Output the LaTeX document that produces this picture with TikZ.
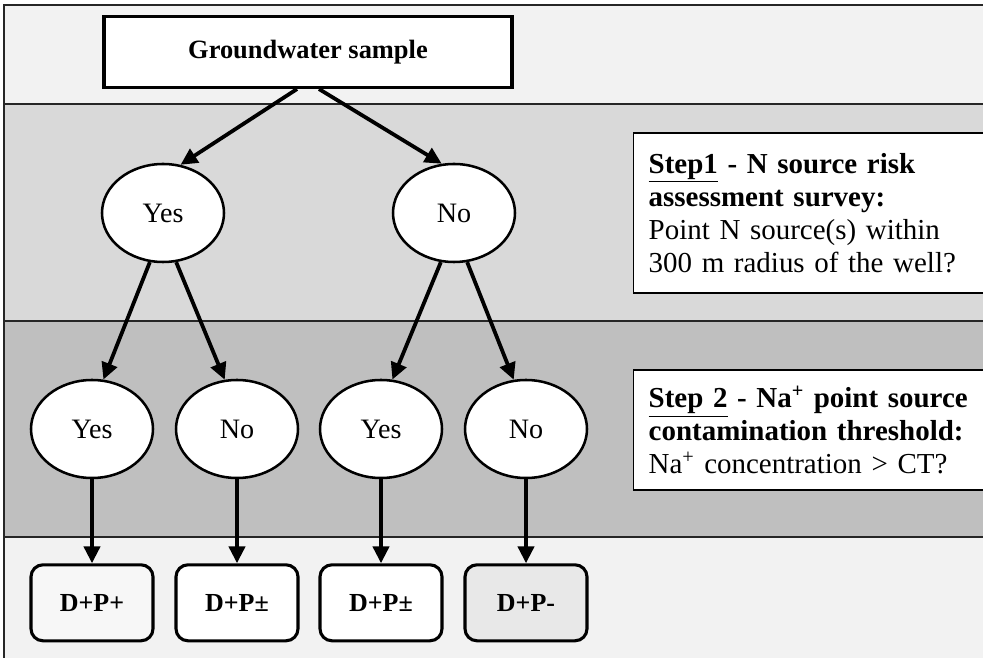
\documentclass[tikz,border=0pt]{standalone}
\usepackage{fontspec}
\setmainfont{Liberation Serif}
\usetikzlibrary{positioning, shapes.geometric, arrows.meta}

\begin{document}
\begin{tikzpicture}[
    node distance=2.1cm,
    font=\fontsize{18}{21}\selectfont,
    % Styles
    band/.style={draw=black!85, line width=0.9pt},
    root_box/.style={
        draw, rectangle, fill=white, line width=2.2pt,
        minimum width=10.2cm, minimum height=1.775cm,
        font=\fontsize{18.8}{22}\selectfont\bfseries
    },
    answer/.style={
        draw, ellipse, fill=white, line width=1.8pt, inner sep=0pt,
        minimum width=3.05cm, minimum height=2.45cm,
        font=\fontsize{20}{23}\selectfont
    },
    result_box/.style={
        draw, rectangle, rounded corners=0.3cm, line width=2.2pt,
        minimum width=3.05cm, minimum height=1.9cm,
        font=\fontsize{18.5}{21}\selectfont\bfseries
    },
    step_box/.style={
        draw, rectangle, fill=white, line width=1pt, anchor=west,
        align=left, text width=9.5cm, inner xsep=0.375cm,
        font=\fontsize{20.6}{23.4}\selectfont
    },
    line/.style={-{Triangle[length=0.42cm, width=0.4cm]}, line width=2.7pt}
]

    \useasboundingbox (0,0) rectangle (24.575,16.425);
    \clip (0,0) rectangle (24.575,16.425);

    % --- BANDS ---
    \draw[band, fill=black!5] (0.1,13.825) rectangle (25,16.3);
    \draw[band, fill=black!15] (0.1,8.4) rectangle (25,13.825);
    \draw[band, fill=black!25] (0.1,3.0) rectangle (25,8.4);
    \draw[band, fill=black!5] (0.1,-1) rectangle (25,3.0);

    % --- NODES ---
    \node[root_box] (root) at (7.7,15.125) {Groundwater sample};

    % Step 1 answers
    \node[answer] (yes1) at (4.075,11.1) {Yes};
    \node[answer] (no1) at (11.35,11.1) {No};

    % Step 2 answers
    \node[answer] (yes2a) at (2.3,5.7) {Yes};
    \node[answer] (no2a) at (5.925,5.7) {No};
    \node[answer] (yes2b) at (9.525,5.7) {Yes};
    \node[answer] (no2b) at (13.15,5.7) {No};

    % Results
    \node[result_box, fill=black!3, below=of yes2a] (r1) {D+P+};
    \node[result_box, fill=white, below=of no2a] (r2) {D+P±};
    \node[result_box, fill=white, below=of yes2b] (r3) {D+P±};
    \node[result_box, fill=black!9, below=of no2b] (r4) {D+P-};

    % Step descriptions
    \node[step_box, minimum height=4cm] (step1) at (15.825,11.1)
        {\textbf{\underline{Step1} - N source risk}\\
         \textbf{assessment survey:}\\
         Point N source(s) within\\
         300 m radius of the well?};
    \node[step_box, minimum height=3cm] (step2) at (15.825,5.675)
        {\textbf{\underline{Step 2} - Na\textsuperscript{+} point source}\\
         \textbf{contamination threshold:}\\
         Na\textsuperscript{+} concentration > CT?};

    % --- CONNECTIONS ---
    \draw[line] ([xshift=-0.275cm]root.south) -- (yes1.70);
    \draw[line] ([xshift=0.275cm]root.south) -- (no1.104);

    \draw[line] (yes1.255) -- (yes2a.77);
    \draw[line] (yes1.285) -- (no2a.104);
    \draw[line] (no1.255) -- (yes2b.77);
    \draw[line] (no1.285) -- (no2b.104);

    \draw[line] (yes2a) -- (r1); \draw[line] (no2a) -- (r2);
    \draw[line] (yes2b) -- (r3); \draw[line] (no2b) -- (r4);

\end{tikzpicture}
\end{document}
